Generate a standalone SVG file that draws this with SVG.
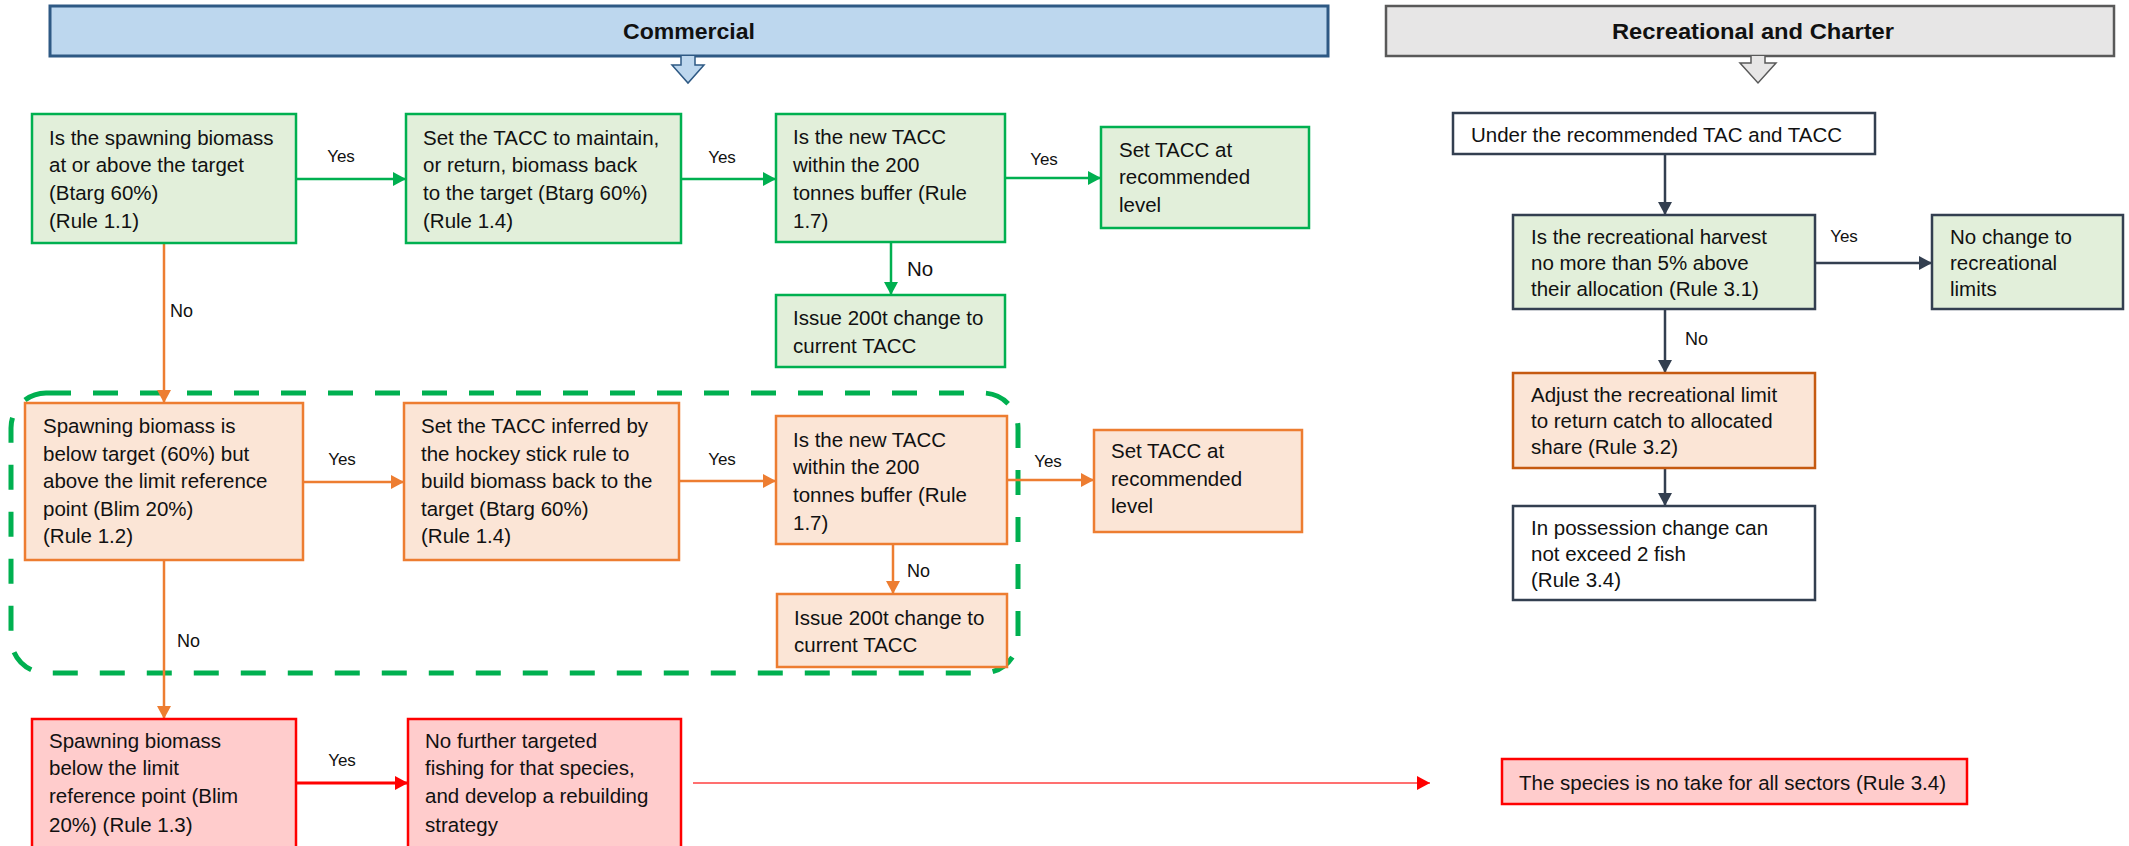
<svg xmlns="http://www.w3.org/2000/svg" width="2129" height="846" viewBox="0 0 2129 846">
<style>
text{font-family:"Liberation Sans",Arial,sans-serif;fill:#111}
.t{font-size:20.5px}
.lbl{font-size:17px}
.no{font-size:18px}
.hd{font-size:22px;font-weight:bold}
.g{fill:#E2EFDA;stroke:#00B050;stroke-width:2.5}
.o{fill:#FBE5D6;stroke:#ED7D31;stroke-width:2.5}
.r{fill:#FFCCCC;stroke:#FF0000;stroke-width:2.5}
.wn{fill:#FFFFFF;stroke:#333F50;stroke-width:2.5}
.gn{fill:#E2EFDA;stroke:#333F50;stroke-width:2.5}
.on{fill:#FBE5D6;stroke:#C55A11;stroke-width:2.5}
.cg{stroke:#00B050;stroke-width:2.5;fill:none}
.co{stroke:#ED7D31;stroke-width:2.5;fill:none}
.cr{stroke:#FF0000;stroke-width:3;fill:none}
.cn{stroke:#333F50;stroke-width:2.5;fill:none}
</style>
<defs>
<marker id="ag" markerUnits="userSpaceOnUse" markerWidth="14" markerHeight="14" refX="13" refY="7" orient="auto"><path d="M0,0 L13,7 L0,14 z" fill="#00B050"/></marker>
<marker id="ao" markerUnits="userSpaceOnUse" markerWidth="14" markerHeight="14" refX="13" refY="7" orient="auto"><path d="M0,0 L13,7 L0,14 z" fill="#ED7D31"/></marker>
<marker id="ar" markerUnits="userSpaceOnUse" markerWidth="14" markerHeight="14" refX="13" refY="7" orient="auto"><path d="M0,0 L13,7 L0,14 z" fill="#FF0000"/></marker>
<marker id="an" markerUnits="userSpaceOnUse" markerWidth="14" markerHeight="14" refX="13" refY="7" orient="auto"><path d="M0,0 L13,7 L0,14 z" fill="#333F50"/></marker>
</defs>

<g id="header-commercial">
<rect x="50" y="6" width="1278" height="50" fill="#BDD7EE" stroke="#2E5984" stroke-width="3"/>
<path d="M681,56 L681,65 L672,65 L688,83 L704,65 L695,65 L695,56" fill="#BDD7EE" stroke="#2E5984" stroke-width="1.5"/>
<text class="hd" x="689" y="39" text-anchor="middle" textLength="132" lengthAdjust="spacingAndGlyphs">Commercial</text>
</g>
<g id="header-recreational">
<rect x="1386" y="6" width="728" height="50" fill="#E7E6E6" stroke="#595959" stroke-width="2.5"/>
<path d="M1751,56 L1751,63 L1740,63 L1758,83 L1776,63 L1765,63 L1765,56" fill="#E7E6E6" stroke="#595959" stroke-width="1.5"/>
<text class="hd" x="1753" y="39" text-anchor="middle" textLength="282" lengthAdjust="spacingAndGlyphs">Recreational and Charter</text>
</g>

<g id="zone">
<rect x="11" y="393" width="1007" height="280" rx="35" ry="35" fill="none" stroke="#00B050" stroke-width="5" stroke-dasharray="25 22"/>
</g>

<g id="connectors">
<line class="cg" x1="296" y1="179" x2="406" y2="179" marker-end="url(#ag)"/>
<line class="cg" x1="681" y1="179" x2="776" y2="179" marker-end="url(#ag)"/>
<line class="cg" x1="1005" y1="178" x2="1101" y2="178" marker-end="url(#ag)"/>
<line class="cg" x1="891" y1="242" x2="891" y2="295" marker-end="url(#ag)"/>
<line class="co" x1="164" y1="243" x2="164" y2="403" marker-end="url(#ao)"/>
<line class="co" x1="303" y1="482" x2="404" y2="482" marker-end="url(#ao)"/>
<line class="co" x1="679" y1="481" x2="776" y2="481" marker-end="url(#ao)"/>
<line class="co" x1="1007" y1="480" x2="1094" y2="480" marker-end="url(#ao)"/>
<line class="co" x1="893" y1="544" x2="893" y2="594" marker-end="url(#ao)"/>
<line class="co" x1="164" y1="560" x2="164" y2="719" marker-end="url(#ao)"/>
<line class="cr" x1="296" y1="783" x2="408" y2="783" marker-end="url(#ar)"/>
<line x1="693" y1="783" x2="1430" y2="783" stroke="#FF7070" stroke-width="2" marker-end="url(#ar)"/>
<line class="cn" x1="1665" y1="154" x2="1665" y2="215" marker-end="url(#an)"/>
<line class="cn" x1="1815" y1="263" x2="1932" y2="263" marker-end="url(#an)"/>
<line class="cn" x1="1665" y1="309" x2="1665" y2="373" marker-end="url(#an)"/>
<line class="cn" x1="1665" y1="468" x2="1665" y2="506" marker-end="url(#an)"/>
<text class="lbl" x="341" y="162" text-anchor="middle">Yes</text>
<text class="lbl" x="722" y="163" text-anchor="middle">Yes</text>
<text class="lbl" x="1044" y="165" text-anchor="middle">Yes</text>
<text class="t" x="907" y="276">No</text>
<text class="no" x="170" y="317">No</text>
<text class="lbl" x="342" y="465" text-anchor="middle">Yes</text>
<text class="lbl" x="722" y="465" text-anchor="middle">Yes</text>
<text class="lbl" x="1048" y="467" text-anchor="middle">Yes</text>
<text class="no" x="907" y="577">No</text>
<text class="no" x="177" y="647">No</text>
<text class="lbl" x="342" y="766" text-anchor="middle">Yes</text>
<text class="lbl" x="1844" y="242" text-anchor="middle">Yes</text>
<text class="no" x="1685" y="345">No</text>
</g>

<g id="nodeA">
<rect class="g" x="32" y="114" width="264" height="129"/>
<text class="t"><tspan x="49" y="145">Is the spawning biomass</tspan><tspan x="49" y="172">at or above the target</tspan><tspan x="49" y="200">(Btarg 60%)</tspan><tspan x="49" y="228">(Rule 1.1)</tspan></text>
</g>
<g id="nodeB">
<rect class="g" x="406" y="114" width="275" height="129"/>
<text class="t"><tspan x="423" y="145">Set the TACC to maintain,</tspan><tspan x="423" y="172">or return, biomass back</tspan><tspan x="423" y="200">to the target (Btarg 60%)</tspan><tspan x="423" y="228">(Rule 1.4)</tspan></text>
</g>
<g id="nodeC">
<rect class="g" x="776" y="114" width="229" height="128"/>
<text class="t"><tspan x="793" y="144">Is the new TACC</tspan><tspan x="793" y="172">within the 200</tspan><tspan x="793" y="200">tonnes buffer (Rule</tspan><tspan x="793" y="228">1.7)</tspan></text>
</g>
<g id="nodeD">
<rect class="g" x="1101" y="127" width="208" height="101"/>
<text class="t"><tspan x="1119" y="157">Set TACC at</tspan><tspan x="1119" y="184">recommended</tspan><tspan x="1119" y="212">level</tspan></text>
</g>
<g id="nodeE">
<rect class="g" x="776" y="295" width="229" height="72"/>
<text class="t"><tspan x="793" y="325">Issue 200t change to</tspan><tspan x="793" y="353">current TACC</tspan></text>
</g>

<g id="nodeF">
<rect class="o" x="25" y="403" width="278" height="157"/>
<text class="t"><tspan x="43" y="433">Spawning biomass is</tspan><tspan x="43" y="461">below target (60%) but</tspan><tspan x="43" y="488">above the limit reference</tspan><tspan x="43" y="516">point (Blim 20%)</tspan><tspan x="43" y="543">(Rule 1.2)</tspan></text>
</g>
<g id="nodeG">
<rect class="o" x="404" y="403" width="275" height="157"/>
<text class="t"><tspan x="421" y="433">Set the TACC inferred by</tspan><tspan x="421" y="461">the hockey stick rule to</tspan><tspan x="421" y="488">build biomass back to the</tspan><tspan x="421" y="516">target (Btarg 60%)</tspan><tspan x="421" y="543">(Rule 1.4)</tspan></text>
</g>
<g id="nodeH">
<rect class="o" x="776" y="416" width="231" height="128"/>
<text class="t"><tspan x="793" y="447">Is the new TACC</tspan><tspan x="793" y="474">within the 200</tspan><tspan x="793" y="502">tonnes buffer (Rule</tspan><tspan x="793" y="530">1.7)</tspan></text>
</g>
<g id="nodeI">
<rect class="o" x="777" y="594" width="230" height="73"/>
<text class="t"><tspan x="794" y="625">Issue 200t change to</tspan><tspan x="794" y="652">current TACC</tspan></text>
</g>
<g id="nodeJ">
<rect class="o" x="1094" y="430" width="208" height="102"/>
<text class="t"><tspan x="1111" y="458">Set TACC at</tspan><tspan x="1111" y="486">recommended</tspan><tspan x="1111" y="513">level</tspan></text>
</g>

<g id="nodeK">
<rect class="r" x="32" y="719" width="264" height="140"/>
<text class="t"><tspan x="49" y="748">Spawning biomass</tspan><tspan x="49" y="775">below the limit</tspan><tspan x="49" y="803">reference point (Blim</tspan><tspan x="49" y="832">20%) (Rule 1.3)</tspan></text>
</g>
<g id="nodeL">
<rect class="r" x="408" y="719" width="273" height="140"/>
<text class="t"><tspan x="425" y="748">No further targeted</tspan><tspan x="425" y="775">fishing for that species,</tspan><tspan x="425" y="803">and develop a rebuilding</tspan><tspan x="425" y="832">strategy</tspan></text>
</g>
<g id="nodeM">
<rect class="r" x="1502" y="759" width="465" height="45" stroke-width="3"/>
<text class="t" x="1519" y="790" textLength="427" lengthAdjust="spacingAndGlyphs">The species is no take for all sectors (Rule 3.4)</text>
</g>

<g id="nodeN">
<rect class="wn" x="1453" y="113" width="422" height="41"/>
<text class="t" x="1471" y="142">Under the recommended TAC and TACC</text>
</g>
<g id="nodeO">
<rect class="gn" x="1513" y="215" width="302" height="94"/>
<text class="t"><tspan x="1531" y="244">Is the recreational harvest</tspan><tspan x="1531" y="270">no more than 5% above</tspan><tspan x="1531" y="296">their allocation (Rule 3.1)</tspan></text>
</g>
<g id="nodeP">
<rect class="gn" x="1932" y="215" width="191" height="94"/>
<text class="t"><tspan x="1950" y="244">No change to</tspan><tspan x="1950" y="270">recreational</tspan><tspan x="1950" y="296">limits</tspan></text>
</g>
<g id="nodeQ">
<rect class="on" x="1513" y="373" width="302" height="95"/>
<text class="t"><tspan x="1531" y="402">Adjust the recreational limit</tspan><tspan x="1531" y="428">to return catch to allocated</tspan><tspan x="1531" y="454">share (Rule 3.2)</tspan></text>
</g>
<g id="nodeR">
<rect class="wn" x="1513" y="506" width="302" height="94"/>
<text class="t"><tspan x="1531" y="535">In possession change can</tspan><tspan x="1531" y="561">not exceed 2 fish</tspan><tspan x="1531" y="587">(Rule 3.4)</tspan></text>
</g>
</svg>
